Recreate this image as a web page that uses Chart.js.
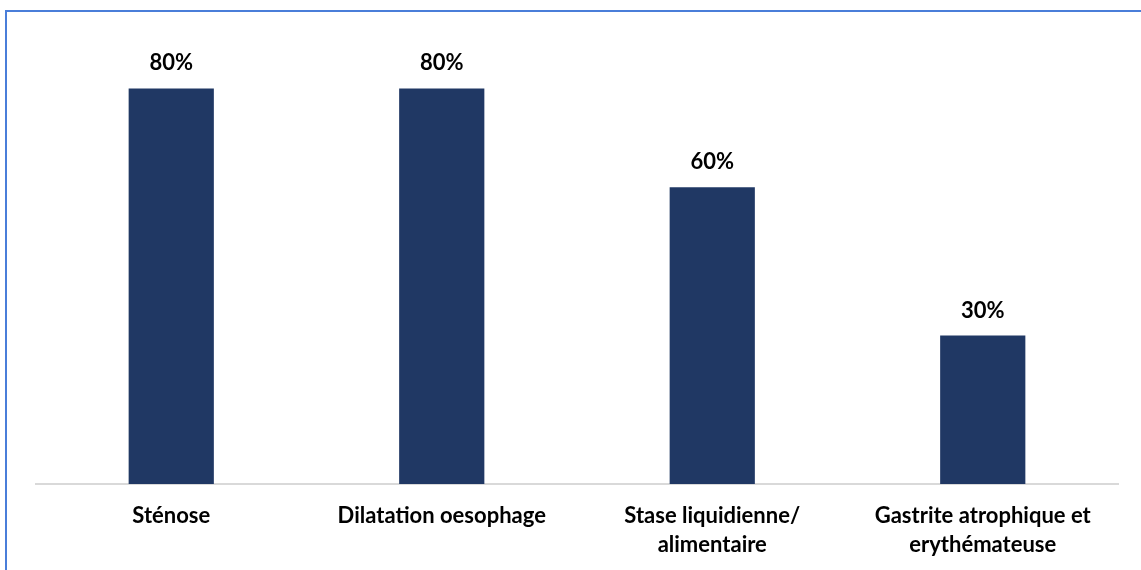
<!DOCTYPE html>
<html>
<head>
<meta charset="utf-8">
<script src="https://cdn.jsdelivr.net/npm/chart.js@4.4.1/dist/chart.umd.min.js"></script>
<style>
  html, body { margin: 0; padding: 0; background: #ffffff; }
  #frame {
    position: absolute; left: 0; top: 0; width: 1141px; height: 570px;
    overflow: hidden;
  }
  #edge {
    position: absolute; left: 5px; top: 10px; width: 1200px; height: 600px;
    border-left: 2px solid #4a7ed9; border-top: 2px solid #4a7ed9;
    box-sizing: border-box;
  }
  #wrap { position: absolute; left: 0; top: 0; width: 1141px; height: 570px; }
</style>
</head>
<body>
<div id="frame">
  <div id="edge"></div>
  <div id="wrap"><canvas id="chart" width="1141" height="570"></canvas></div>
</div>
<script>
const categories = [
  'Sténose',
  'Dilatation oesophage',
  ['Stase liquidienne/', 'alimentaire'],
  ['Gastrite atrophique et', 'erythémateuse']
];
const percentages = [80, 80, 60, 30];

const FONT = 'Lato, "Open Sans", "Liberation Sans", sans-serif';

// Writes each bar's percentage just above its top edge
const valueLabels = {
  id: 'valueLabels',
  afterDatasetsDraw(chart) {
    const { ctx } = chart;
    const meta = chart.getDatasetMeta(0);
    ctx.save();
    ctx.font = 'bold 22px ' + FONT;
    ctx.fillStyle = '#000000';
    ctx.textAlign = 'center';
    ctx.textBaseline = 'alphabetic';
    meta.data.forEach((bar, i) => {
      ctx.fillText(percentages[i] + '%', bar.x, bar.y - 18);
    });
    ctx.restore();
  }
};

new Chart(document.getElementById('chart'), {
  type: 'bar',
  data: {
    labels: categories,
    datasets: [{
      data: percentages,
      backgroundColor: '#203864',
      barPercentage: 0.63,
      categoryPercentage: 0.5
    }]
  },
  options: {
    responsive: false,
    animation: false,
    layout: { padding: { left: 36, right: 23, top: 39, bottom: -6 } },
    plugins: { legend: { display: false }, tooltip: { enabled: false } },
    scales: {
      x: {
        grid: { display: false, drawTicks: false },
        border: { display: true, color: '#d9d9d9', width: 2 },
        ticks: {
          color: '#000000',
          font: { family: FONT, size: 22, weight: 'bold', lineHeight: 1.32 },
          padding: 17,
          maxRotation: 0,
          autoSkip: false
        }
      },
      y: {
        display: false,
        min: 0,
        max: 90
      }
    }
  },
  plugins: [valueLabels]
});
</script>
</body>
</html>
